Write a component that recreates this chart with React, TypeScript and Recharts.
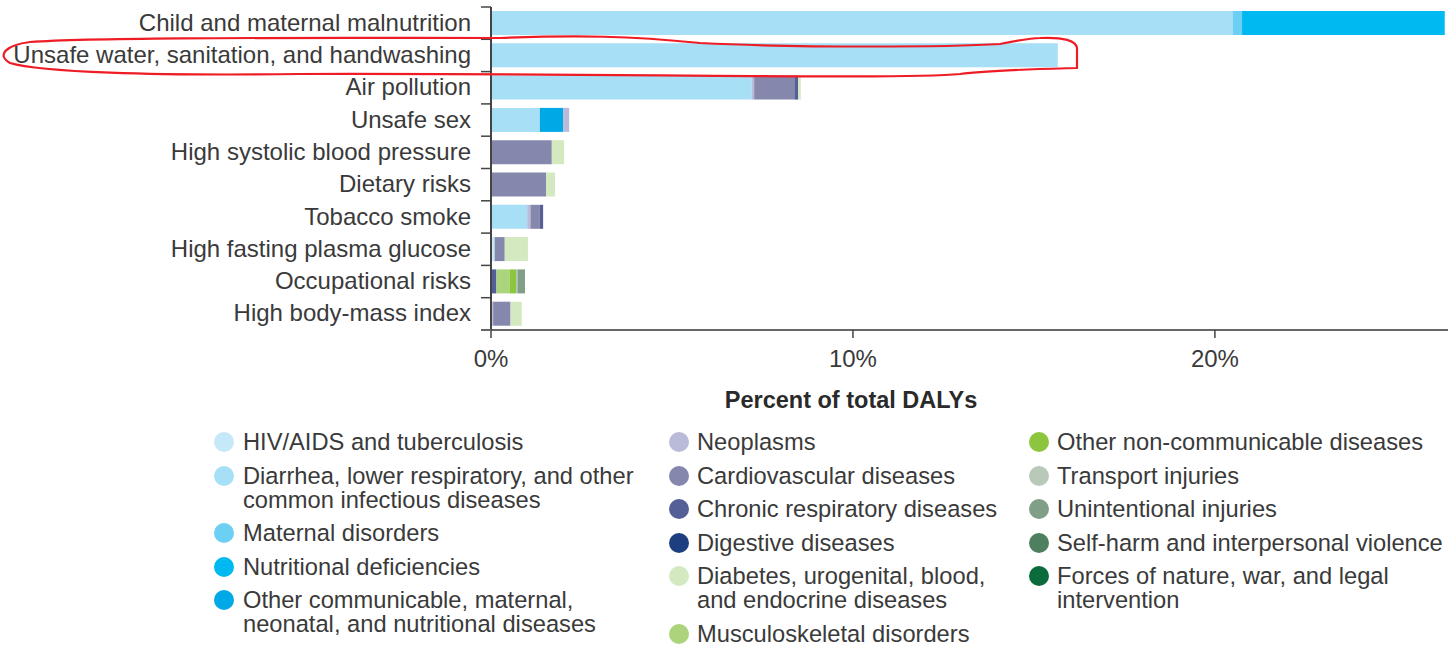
import React from "react";
import { BarChart, Bar, XAxis, YAxis, Label } from "recharts";

const riskFactors = [
  "Child and maternal malnutrition",
  "Unsafe water, sanitation, and handwashing",
  "Air pollution",
  "Unsafe sex",
  "High systolic blood pressure",
  "Dietary risks",
  "Tobacco smoke",
  "High fasting plasma glucose",
  "Occupational risks",
  "High body-mass index",
];

// percent of total DALYs, one value per risk factor (same order as above)
const hivTb = [0, 0, 0, 0, 0, 0, 0, 0.1, 0, 0];
const diarrheaLri = [20.5, 15.66, 7.2, 1.35, 0, 0, 1.0, 0, 0, 0];
const maternal = [0.25, 0, 0, 0, 0, 0, 0, 0, 0, 0];
const nutritional = [5.6, 0, 0, 0, 0, 0, 0, 0, 0, 0];
const otherCommunicable = [0, 0, 0, 0.64, 0, 0, 0, 0, 0, 0];
const neoplasms = [0, 0, 0.07, 0.17, 0, 0, 0.09, 0, 0, 0.06];
const cardiovascular = [0, 0, 1.11, 0, 1.68, 1.52, 0.26, 0.28, 0, 0.48];
const chronicRespiratory = [0, 0, 0.11, 0, 0, 0, 0.09, 0, 0.15, 0];
const digestive = [0, 0, 0, 0, 0, 0, 0, 0, 0, 0];
const diabetesUrogenital = [0, 0, 0.07, 0, 0.34, 0.25, 0, 0.64, 0, 0.31];
const musculoskeletal = [0, 0, 0, 0, 0, 0, 0, 0, 0.36, 0];
const otherNcd = [0, 0, 0, 0, 0, 0, 0, 0, 0.18, 0];
const transport = [0, 0, 0, 0, 0, 0, 0, 0, 0.04, 0];
const unintentional = [0, 0, 0, 0, 0, 0, 0, 0, 0.21, 0];
const selfHarm = [0, 0, 0, 0, 0, 0, 0, 0, 0, 0];
const forcesOfNature = [0, 0, 0, 0, 0, 0, 0, 0, 0, 0];

const xTicks = [0, 10, 20];

const causes = [
  { key: "hivTb", lines: ["HIV/AIDS and tuberculosis"], color: "#c6e9fa", values: hivTb, col: 0 },
  { key: "diarrheaLri", lines: ["Diarrhea, lower respiratory, and other", "common infectious diseases"], color: "#a7dff7", values: diarrheaLri, col: 0 },
  { key: "maternal", lines: ["Maternal disorders"], color: "#6dcff3", values: maternal, col: 0 },
  { key: "nutritional", lines: ["Nutritional deficiencies"], color: "#00b9f1", values: nutritional, col: 0 },
  { key: "otherCommunicable", lines: ["Other communicable, maternal,", "neonatal, and nutritional diseases"], color: "#00a8e6", values: otherCommunicable, col: 0 },
  { key: "neoplasms", lines: ["Neoplasms"], color: "#b9bbd8", values: neoplasms, col: 1 },
  { key: "cardiovascular", lines: ["Cardiovascular diseases"], color: "#8587ad", values: cardiovascular, col: 1 },
  { key: "chronicRespiratory", lines: ["Chronic respiratory diseases"], color: "#545f97", values: chronicRespiratory, col: 1 },
  { key: "digestive", lines: ["Digestive diseases"], color: "#1e3f7f", values: digestive, col: 1 },
  { key: "diabetesUrogenital", lines: ["Diabetes, urogenital, blood,", "and endocrine diseases"], color: "#d5e9c0", values: diabetesUrogenital, col: 1 },
  { key: "musculoskeletal", lines: ["Musculoskeletal disorders"], color: "#acd47c", values: musculoskeletal, col: 1 },
  { key: "otherNcd", lines: ["Other non-communicable diseases"], color: "#8cc63f", values: otherNcd, col: 2 },
  { key: "transport", lines: ["Transport injuries"], color: "#b8c9b9", values: transport, col: 2 },
  { key: "unintentional", lines: ["Unintentional injuries"], color: "#819f86", values: unintentional, col: 2 },
  { key: "selfHarm", lines: ["Self-harm and interpersonal violence"], color: "#4e8060", values: selfHarm, col: 2 },
  { key: "forcesOfNature", lines: ["Forces of nature, war, and legal", "intervention"], color: "#0b6b3a", values: forcesOfNature, col: 2 },
];

const data = riskFactors.map((name, i) => {
  const row: Record<string, string | number> = { name };
  causes.forEach((c) => {
    row[c.key] = c.values[i];
  });
  return row;
});

const FONT = '"Liberation Sans", Arial, Helvetica, sans-serif';
const TEXT = "#3a3a3a";
const PLOT_H = 323;
const BAND = PLOT_H / riskFactors.length;

function RiskTick(props: any) {
  const { x, y, payload, index } = props;
  const axisX = x + 20;
  return (
    <g>
      <line x1={axisX - 10} x2={axisX} y1={y - BAND / 2} y2={y - BAND / 2} stroke="#444" strokeWidth={1.5} />
      {index === riskFactors.length - 1 && (
        <line x1={axisX - 10} x2={axisX} y1={y + BAND / 2} y2={y + BAND / 2} stroke="#666" strokeWidth={2} />
      )}
      <text x={x} y={y - 1} dy="0.36em" textAnchor="end" fontSize={24} fill={TEXT} fontFamily={FONT}>
        {payload.value}
      </text>
    </g>
  );
}

const legendCols = [
  { dotX: 224, textX: 243 },
  { dotX: 679, textX: 697 },
  { dotX: 1039, textX: 1057 },
];

function LegendBlock() {
  return (
    <>
      {legendCols.map((lc, ci) => (
        <div
          key={ci}
          style={{ position: "absolute", left: lc.textX, top: 430, display: "flex", flexDirection: "column", gap: 9.5 }}
        >
          {causes
            .filter((c) => c.col === ci)
            .map((c) => (
              <div key={c.key} style={{ position: "relative", lineHeight: "24px", fontSize: 23.7, color: TEXT, whiteSpace: "nowrap" }}>
                <span
                  style={{
                    position: "absolute",
                    left: lc.dotX - lc.textX - 10,
                    top: 2,
                    width: 20,
                    height: 20,
                    borderRadius: 10,
                    background: c.color,
                  }}
                />
                {c.lines.map((l, li) => (
                  <div key={li}>{l}</div>
                ))}
              </div>
            ))}
        </div>
      ))}
    </>
  );
}

export default function App() {
  return (
    <div style={{ position: "absolute", left: 0, top: 0, width: 1448, height: 646, overflow: "hidden", background: "#fff", fontFamily: FONT }}>
      <BarChart
        width={1448}
        height={420}
        data={data}
        layout="vertical"
        margin={{ top: 7, right: 0, bottom: 0, left: 0 }}
        barSize={24}
      >
        <XAxis
          type="number"
          domain={[0, 26.44]}
          allowDataOverflow
          ticks={xTicks}
          tickFormatter={(v) => `${v}%`}
          height={90}
          tickSize={8}
          tickMargin={12}
          axisLine={{ stroke: "#666", strokeWidth: 2 }}
          tickLine={{ stroke: "#444", strokeWidth: 1.5 }}
          tick={{ fontSize: 24, fill: TEXT, fontFamily: FONT }}
        >
          <Label
            content={(p: any) => {
              const vb = p.viewBox;
              return (
                <text
                  x={vb.x + 360}
                  y={vb.y + 78}
                  textAnchor="middle"
                  fontSize={23.5}
                  fontWeight="bold"
                  fill="#2a2a2a"
                  fontFamily={FONT}
                >
                  Percent of total DALYs
                </text>
              );
            }}
          />
        </XAxis>
        <YAxis
          type="category"
          dataKey="name"
          width={491}
          tickSize={10}
          tickMargin={10}
          tickLine={false}
          axisLine={{ stroke: "#444", strokeWidth: 2 }}
          tick={<RiskTick />}
          interval={0}
        />
        {causes.map((c) => (
          <Bar key={c.key} dataKey={c.key} stackId="a" fill={c.color} isAnimationActive={false} />
        ))}
      </BarChart>
      <LegendBlock />
      <svg
        width={1448}
        height={646}
        style={{ position: "absolute", left: 0, top: 0, pointerEvents: "none" }}
      >
        <path
          d="M 1040 38 C 1062 37, 1078 40, 1077 50 L 1077 68 C 1040 69, 990 70, 960 74 C 900 80, 600 73, 300 74 C 150 76, 40 72, 10 63 C -4 55, 6 45, 30 42 C 100 37, 300 38, 500 38 C 580 35, 630 36, 700 43 C 800 48, 950 47, 1000 44 C 1020 40, 1030 38, 1040 38 Z"
          fill="none"
          stroke="#ee1c25"
          strokeWidth={2.2}
        />
      </svg>
    </div>
  );
}
